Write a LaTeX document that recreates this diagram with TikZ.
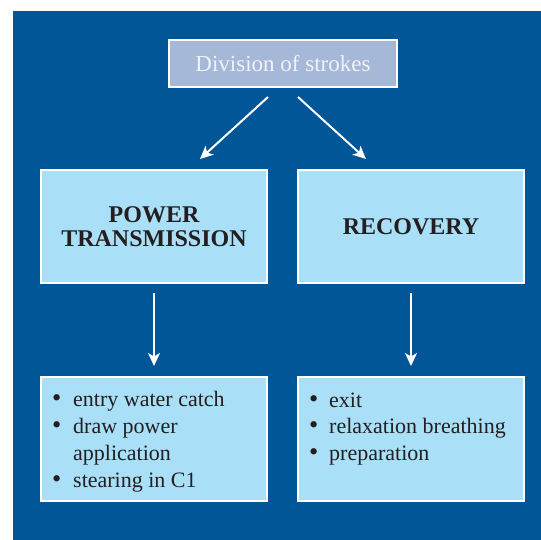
\documentclass[tikz,border=0pt]{standalone}
\usepackage{fontspec}
\setmainfont{Liberation Serif}
\usetikzlibrary{arrows.meta}
\definecolor{bgblue}{RGB}{0,86,150}
\definecolor{boxblue}{RGB}{170,223,248}
\definecolor{topfill}{RGB}{166,184,216}
\definecolor{darktext}{RGB}{35,31,32}
\definecolor{toptext}{RGB}{240,242,247}
\tikzset{
  frame/.style={draw=white, line width=2pt, inner sep=0pt, outer sep=0pt},
  topbox/.style={frame, fill=topfill, minimum width=228pt, minimum height=47pt,
    text=toptext, font=\fontsize{23}{27}\selectfont},
  headbox/.style={frame, fill=boxblue, minimum width=226pt, minimum height=113pt,
    text=darktext, align=center, font=\fontsize{24}{24}\selectfont\bfseries},
  listbox/.style={frame, fill=boxblue, minimum width=226pt, minimum height=124pt},
  item/.style={anchor=base west, inner sep=0pt, text=darktext, font=\fontsize{22}{27}\selectfont},
  arr/.style={draw=white, line width=2pt, -{Stealth[length=13pt, width=12pt, inset=3.5pt]}}
}
\newcommand{\bul}[1]{\makebox[#1][l]{\scalebox{1.2}{\textbullet}}}
\begin{document}
\begin{tikzpicture}[x=1pt, y=-1pt]
\useasboundingbox (0,0) rectangle (541,540);
\fill[bgblue] (13,11) rectangle (541,540);

\node[topbox] (top) at (283,63.5) {Division of strokes};
\node[headbox] (pt) at (154,226.5) {POWER\\TRANSMISSION};
\node[headbox] (rec) at (411,226.5) {RECOVERY};
\node[listbox] (lb) at (154,439) {};
\node[listbox] (rb) at (411,439) {};

\coordinate (a1s) at (268,97);
\coordinate (a1e) at (200,159);
\coordinate (a2s) at (298,97);
\coordinate (a2e) at (366,159);
\draw[arr] (a1s) -- (a1e);
\draw[arr] (a2s) -- (a2e);
\draw[arr, shorten <=10pt, shorten >=11pt] (pt.south) -- (lb.north);
\draw[arr, shorten <=10pt, shorten >=11pt] (rec.south) -- (rb.north);

\node[item] (l1) at (52,406) {\bul{21pt}entry water catch};
\node[item] (l2) at (52,433) {\bul{21pt}draw power};
\node[item] (l3) at (73,460) {application};
\node[item] (l4) at (52,487) {\bul{21pt}stearing in C1};

\node[item] (r1) at (309,407) {\bul{20pt}exit};
\node[item] (r2) at (309,433) {\bul{20pt}relaxation breathing};
\node[item] (r3) at (309,460) {\bul{20pt}preparation};
\end{tikzpicture}
\end{document}
